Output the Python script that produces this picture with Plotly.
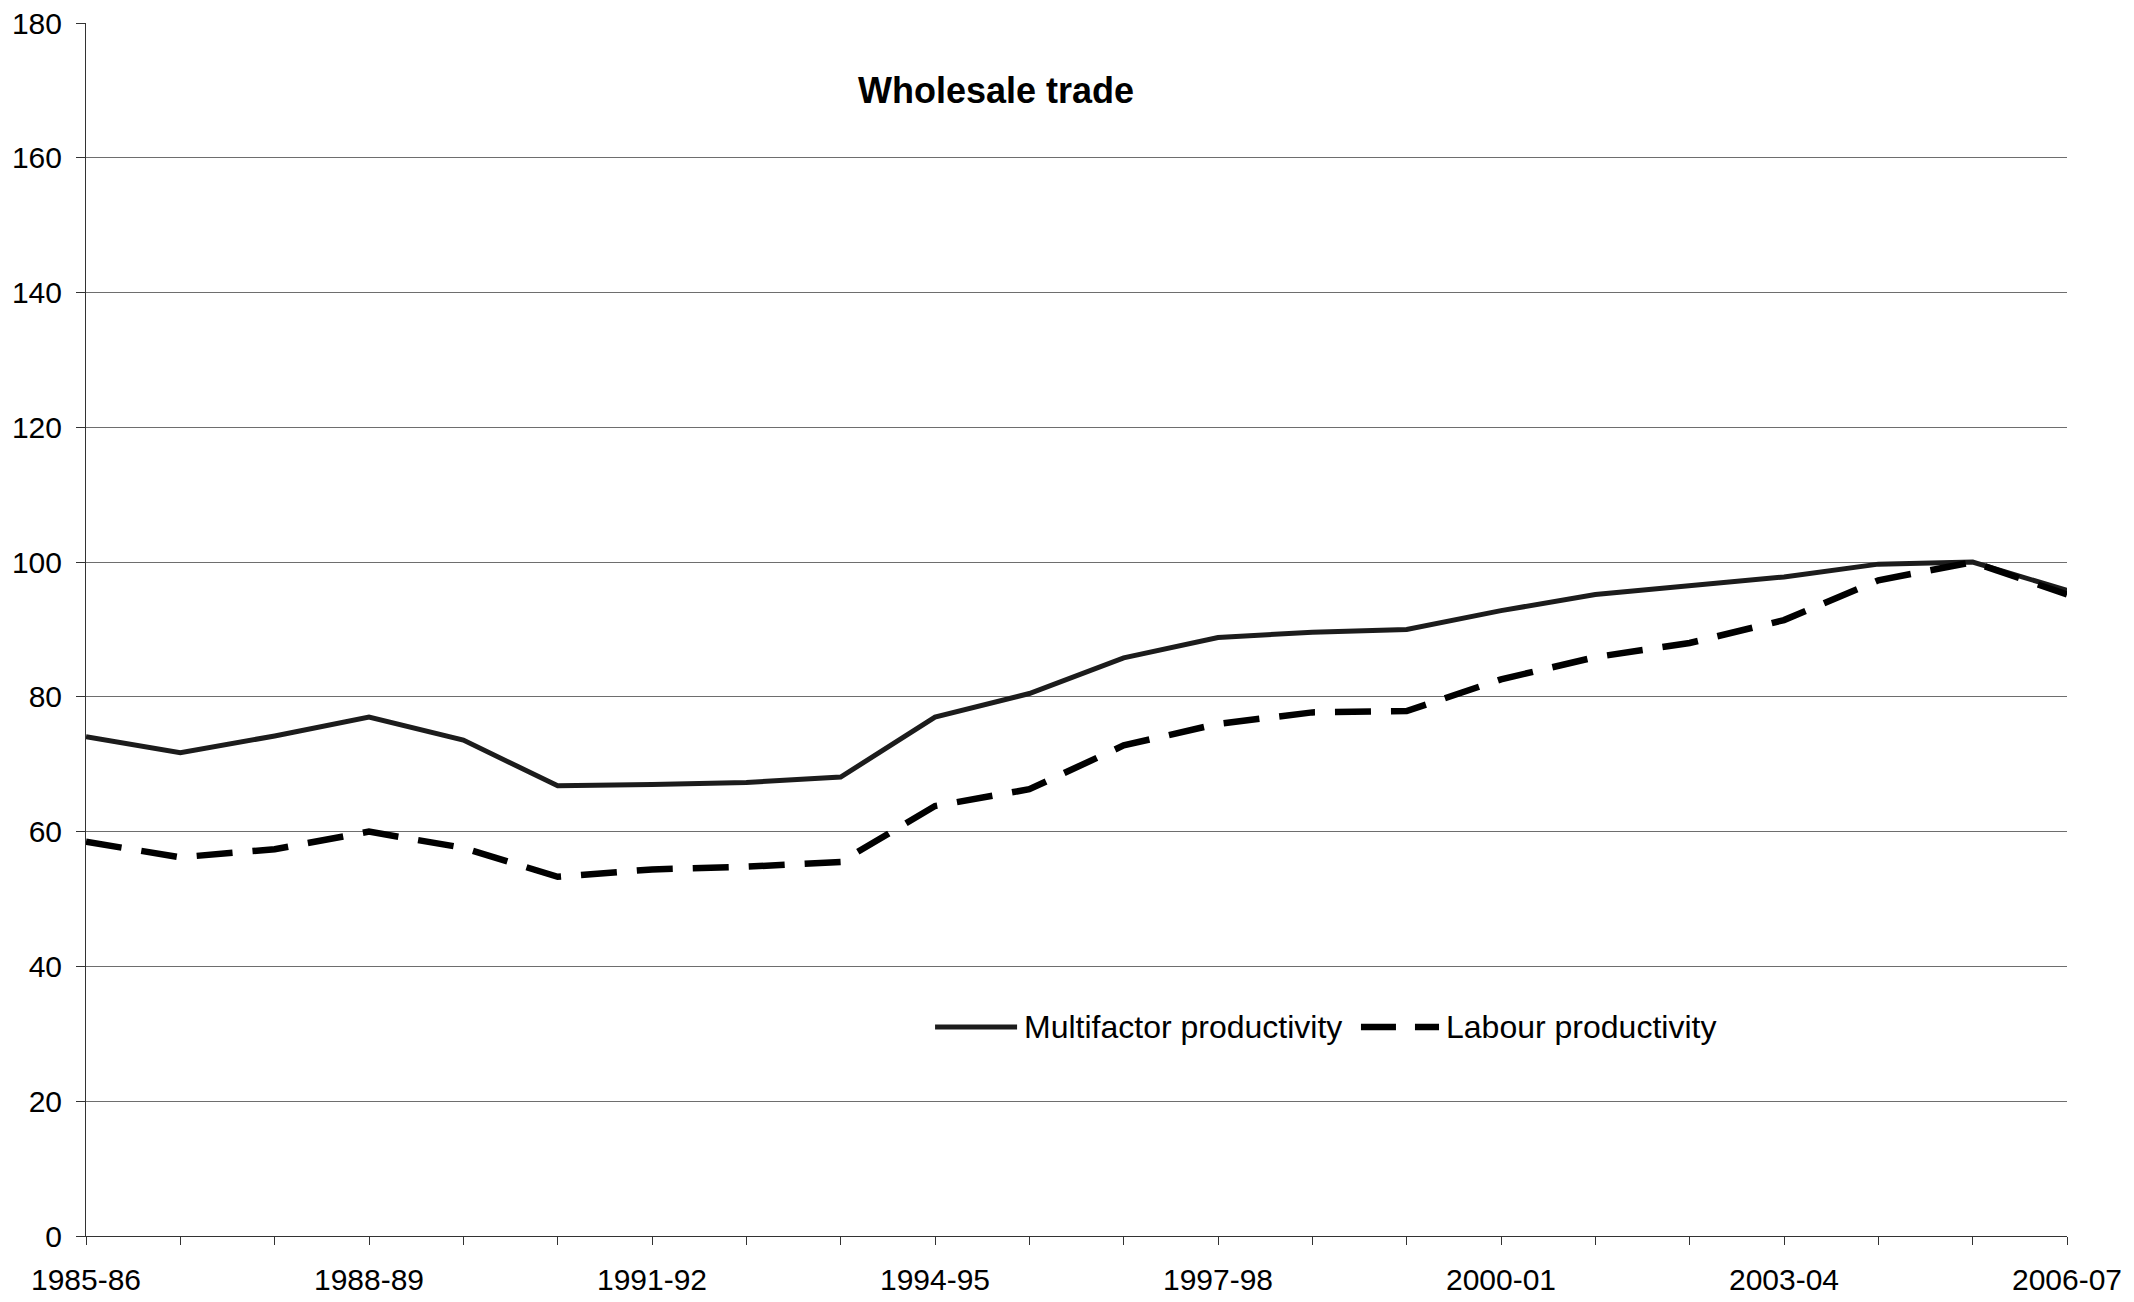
import plotly.graph_objects as go

years = ["1985-86", "1986-87", "1987-88", "1988-89", "1989-90", "1990-91", "1991-92",
         "1992-93", "1993-94", "1994-95", "1995-96", "1996-97", "1997-98", "1998-99",
         "1999-00", "2000-01", "2001-02", "2002-03", "2003-04", "2004-05", "2005-06", "2006-07"]
multifactor = [74.1, 71.7, 74.2, 77.0, 73.6, 66.8, 67.0, 67.3, 68.1, 77.0, 80.5, 85.8,
               88.8, 89.6, 90.0, 92.8, 95.2, 96.5, 97.8, 99.7, 100.0, 95.8]
labour = [58.5, 56.2, 57.4, 60.0, 57.6, 53.3, 54.4, 54.8, 55.5, 63.8, 66.3, 72.8,
          76.0, 77.7, 77.9, 82.6, 85.9, 88.0, 91.4, 97.3, 100.0, 95.2]
label_years = ["1985-86", "1988-89", "1991-92", "1994-95", "1997-98", "2000-01", "2003-04", "2006-07"]
y_ticks = [0, 20, 40, 60, 80, 100, 120, 140, 160, 180]
title_text = "Wholesale trade"
names = ["Multifactor productivity", "Labour productivity"]

FONT = "Arial, 'Liberation Sans', sans-serif"

fig = go.Figure()
fig.add_trace(go.Scatter(x=years, y=multifactor, mode="lines", name=names[0],
                         line=dict(color="#1c1c1c", width=5), showlegend=False))
fig.add_trace(go.Scatter(x=years, y=labour, mode="lines", name=names[1],
                         line=dict(color="#000000", width=6.5, dash="36px,20px"), showlegend=False))

# custom legend
ly = 0.1723
fig.add_shape(type="line", xref="paper", yref="paper", x0=0.4286, x1=0.470, y0=ly, y1=ly,
              line=dict(color="#1c1c1c", width=5))
fig.add_shape(type="line", xref="paper", yref="paper", x0=0.6436, x1=0.683, y0=ly, y1=ly,
              line=dict(color="#000000", width=6.5, dash="35px,19px"))
fig.add_annotation(xref="paper", yref="paper", x=0.4725, y=ly, text=names[0], showarrow=False,
                   xanchor="left", yanchor="middle", font=dict(family=FONT, size=32, color="#000"))
fig.add_annotation(xref="paper", yref="paper", x=0.6855, y=ly, text=names[1], showarrow=False,
                   xanchor="left", yanchor="middle", font=dict(family=FONT, size=32, color="#000"))

fig.add_annotation(xref="paper", yref="paper", x=0.4594, y=0.944, text="<b>" + title_text + "</b>",
                   showarrow=False, xanchor="center", yanchor="middle",
                   font=dict(family=FONT, size=36, color="#000"))

fig.update_layout(
    width=2134, height=1302,
    margin=dict(l=86, r=67, t=23, b=66, autoexpand=False),
    paper_bgcolor="white", plot_bgcolor="white",
    font=dict(family=FONT, size=30, color="#000"),
    showlegend=False,
)
fig.update_xaxes(
    type="category", range=[0, len(years) - 1], automargin=False,
    tickmode="array", tickvals=years,
    ticktext=[y if y in label_years else "" for y in years],
    ticks="outside", ticklen=8, tickcolor="#333", tickwidth=1,
    showline=True, linecolor="#333", linewidth=1,
    showgrid=False, zeroline=False, ticklabelstandoff=9,
    tickfont=dict(family=FONT, size=30, color="#000"),
)
fig.update_yaxes(
    range=[0, 180], tickmode="array", tickvals=y_ticks, automargin=False,
    ticks="outside", ticklen=9, tickcolor="#333", tickwidth=1,
    showline=True, linecolor="#333", linewidth=1,
    showgrid=True, gridcolor="#6e6e6e", gridwidth=1, zeroline=False,
    ticklabelstandoff=8,
    tickfont=dict(family=FONT, size=30, color="#000"),
)

fig.write_html("out.html", config={"displayModeBar": False},
               post_script="document.body.style.margin='0';document.body.style.overflow='hidden';")
